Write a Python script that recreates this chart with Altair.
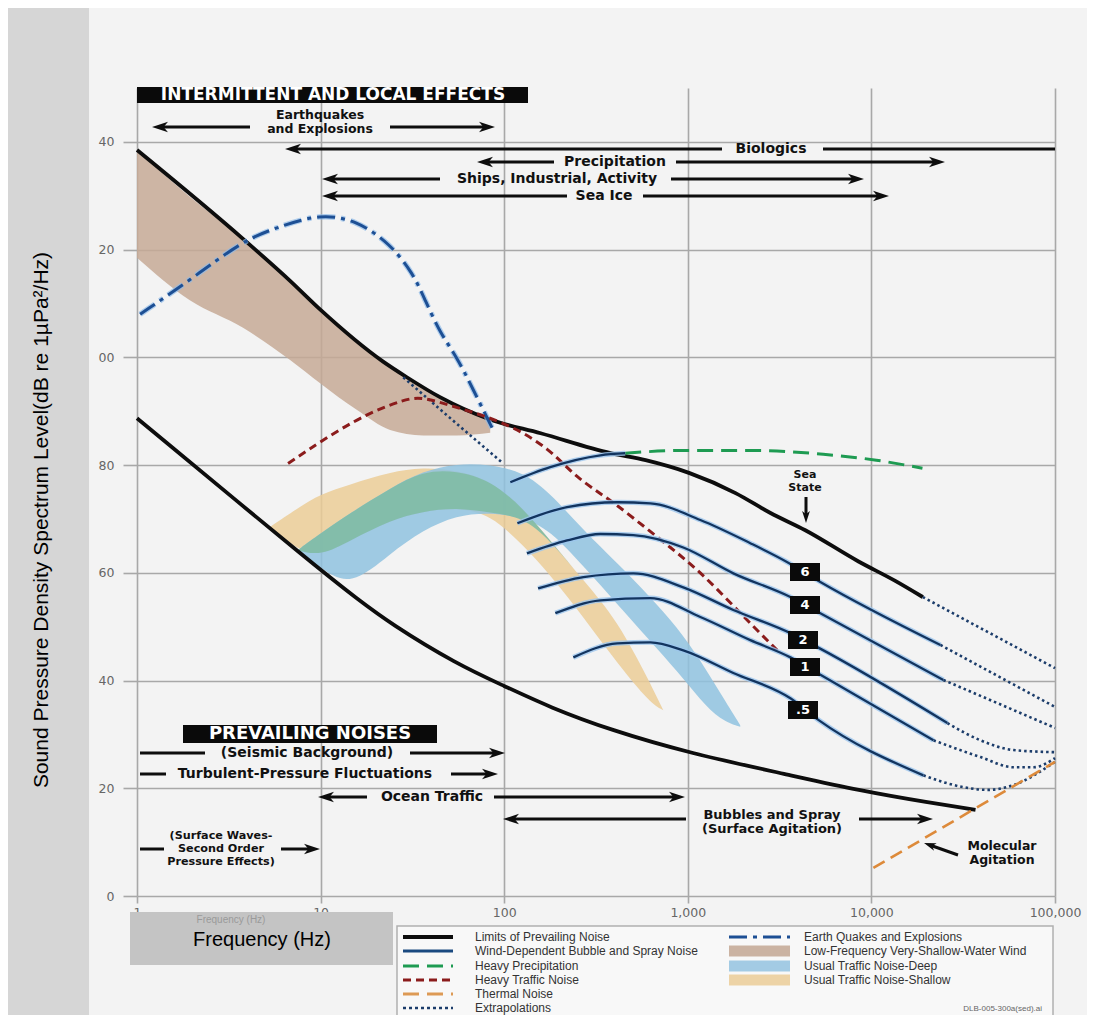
import altair as alt
import pandas as pd

# ---------------------------------------------------------------------------
# Values: frequency (Hz) and level (dB re 1 uPa^2/Hz)
# ---------------------------------------------------------------------------
upper_f = [1, 3.78, 6.82, 10, 21.9, 29.5, 44.7, 83, 158, 380, 589, 1023, 1820, 2820, 4365, 8510, 13490, 19050]
upper_db = [138.5, 122.0, 114.2, 108.8, 99.2, 96.3, 92.6, 88.5, 85.9, 82.2, 80.9, 78.5, 74.8, 71.1, 67.9, 62.1, 58.5, 55.5]

lower_f = [1, 9.94, 15.8, 23.9, 55.4, 100, 178, 380, 1023, 3550, 8510, 20900, 36900]
lower_db = [88.7, 60.5, 55.2, 50.6, 43.0, 39.0, 35.0, 30.8, 26.5, 22.5, 19.6, 17.3, 16.0]

quake_f = [1.04, 1.94, 3.78, 5.79, 9.94, 15.8, 23.9, 31.9, 37.1, 44.8, 55.4, 67.8, 87.1]
quake_db = [108.0, 114.3, 121.7, 124.1, 126.7, 125.4, 121.1, 115.6, 110.6, 104.5, 100.0, 94.0, 86.5]

traffic_f = [6.65, 15.8, 29.6, 36.2, 55.4, 104, 178, 244, 383, 682, 1156, 2057, 3075]
traffic_db = [80.3, 88.9, 92.4, 92.6, 90.7, 87.8, 83.0, 77.7, 73.5, 66.6, 60.5, 51.5, 45.6]

precip_f = [456, 934, 2245, 5470, 10640, 18970]
precip_db = [82.2, 82.7, 82.7, 82.0, 80.9, 79.4]

thermal_f = [10250, 100000]
thermal_db = [5.2, 24.9]

wind_labels = ["top", "6", "4", "2", "1", ".5"]
wind_f = [
    [108, 178, 334, 456],
    [118, 220, 413, 625, 1170, 2190, 3390, 5270, 23770],
    [133, 220, 334, 505, 945, 1770, 3620, 5270, 24660],
    [153, 270, 505, 945, 1770, 3620, 5080, 25940],
    [190, 334, 625, 1170, 2190, 3620, 5080, 21780],
    [238, 413, 625, 945, 1770, 3620, 5140, 19190],
]
wind_db = [
    [76.8, 79.6, 81.8, 82.2],
    [69.2, 72.2, 73.1, 72.9, 69.8, 65.5, 62.2, 58.3, 46.6],
    [63.6, 66.0, 67.2, 67.0, 64.7, 59.9, 55.5, 52.5, 40.1],
    [57.1, 59.2, 59.9, 57.3, 53.1, 48.8, 46.2, 32.1],
    [52.5, 54.9, 55.3, 51.8, 47.5, 44.3, 41.4, 28.9],
    [44.3, 46.9, 47.1, 45.6, 41.4, 36.7, 32.7, 22.4],
]

ext_labels = ["low", "limit", "6", "4", "2", "1", ".5"]
ext_f = [
    [28.2, 52.5, 98.8],
    [19050, 100000],
    [23770, 100000],
    [24660, 48600, 100000],
    [25940, 39260, 59400, 100000],
    [21780, 39260, 59400, 76400, 100000],
    [19190, 31700, 42900, 59400, 100000],
]
ext_db = [
    [96.3, 88.3, 80.3],
    [55.5, 42.3],
    [46.6, 35.1],
    [40.1, 35.8, 31.2],
    [32.1, 28.9, 27.1, 26.7],
    [28.9, 25.8, 23.9, 23.9, 25.6],
    [22.4, 20.2, 19.7, 20.6, 24.9],
]

wind_band_f = [1, 1.94, 3.78, 6.82, 9.94, 15.8, 23.9, 36.2, 55.4, 83.9]
wind_band_hi = [138.5, 129.8, 122.0, 114.2, 108.9, 102.6, 98.5, 94.4, 91.1, 88.5]
wind_band_lo = [118.5, 110.6, 105.5, 99.5, 95.2, 90.2, 86.5, 85.5, 85.5, 86.0]

shallow_f = [5.3, 7.5, 10, 14.5, 24, 36, 55, 84, 127, 178, 270, 413, 625, 735]
shallow_hi = [68.5, 72.0, 74.6, 76.4, 78.7, 79.6, 79.0, 77.2, 72.0, 66.0, 58.6, 51.2, 39.5, 34.5]
shallow_lo = [68.5, 64.2, 63.1, 66.0, 69.8, 71.4, 72.1, 70.9, 65.1, 59.6, 51.8, 43.2, 35.8, 34.5]

deep_f = [7.5, 10, 14.5, 24, 36, 55, 84, 127, 178, 270, 413, 625, 877, 1170, 1500, 1930]
deep_hi = [64.2, 67.3, 71.1, 75.7, 78.9, 80.3, 80.1, 78.7, 74.8, 67.9, 61.8, 55.5, 49.9, 43.8, 37.7, 31.7]
deep_lo = [64.2, 60.9, 57.3, 63.6, 67.9, 70.7, 71.2, 70.3, 67.9, 61.2, 54.2, 47.3, 41.7, 36.4, 32.7, 31.4]

x_ticks = [1, 10, 100, 1000, 10000, 100000]
y_ticks = [0, 20, 40, 60, 80, 100, 120, 140]

# ---------------------------------------------------------------------------
# Layout helpers (page pixels -> data space, used only for annotations)
# ---------------------------------------------------------------------------
PX0, PX1, PY0, PY1 = 137.0, 1055.0, 88.0, 896.0
DEC = (PX1 - PX0) / 5.0
DBPX = (PY1 - PY0) / 150.0


def fx(px):
    return 10 ** ((px - PX0) / DEC)


def dy(py):
    return (PY1 - py) / DBPX


BLACK = "#0d0d0d"
GRID = "#a8a8a8"

XS = alt.Scale(type="log", domain=[1, 100000], nice=False)
YS = alt.Scale(domain=[0, 150], nice=False, zero=False)
XA = alt.Axis(values=x_ticks, labelExpr="format(datum.value, ',')", title="",
              grid=True, gridColor=GRID, gridWidth=1.6, domain=False,
              ticks=True, tickSize=7, tickColor=GRID, tickWidth=1.6,
              labelFont="DejaVu Sans", labelFontSize=12.5, labelColor="#666666",
              labelPadding=3, labelOverlap=False, labelFlush=False)
YA = alt.Axis(values=y_ticks,
              labelExpr="datum.value >= 100 ? substring(toString(datum.value), 1) : toString(datum.value)",
              title="", grid=True, gridColor=GRID, gridWidth=1.6, domain=False,
              ticks=True, tickSize=14, tickColor=GRID, tickWidth=1.6,
              labelFont="DejaVu Sans", labelFontSize=12.5, labelColor="#666666",
              labelPadding=9, labelOverlap=False)


def xy(xf="f", yf="db"):
    return dict(x=alt.X(f"{xf}:Q", scale=XS, axis=XA), y=alt.Y(f"{yf}:Q", scale=YS, axis=YA))


def lines_df(names, fl, dl):
    rows = []
    for n, fs, ds in zip(names, fl, dl):
        for i, (a, b) in enumerate(zip(fs, ds)):
            rows.append({"name": n, "f": a, "db": b, "o": i})
    return pd.DataFrame(rows)


def line_layer(df, color, width, dash=None, interp="monotone", opacity=1.0):
    kw = dict(color=color, strokeWidth=width, interpolate=interp, opacity=opacity, strokeCap="butt")
    if dash:
        kw["strokeDash"] = dash
    return alt.Chart(df).mark_line(**kw).encode(**xy(), detail="name:N", order="o:Q")


def band_layer(df, color, opacity, interp="monotone"):
    return alt.Chart(df).mark_area(color=color, opacity=opacity, interpolate=interp).encode(
        x=alt.X("f:Q", scale=XS, axis=XA), y=alt.Y("hi:Q", scale=YS, axis=YA), y2="lo:Q")


def rect_layer(boxes, fill, stroke=None, sw=0):
    df = pd.DataFrame([{"f": fx(a), "f2": fx(c), "db": dy(b), "db2": dy(d)} for a, b, c, d in boxes])
    kw = dict(fill=fill, opacity=1)
    if stroke:
        kw.update(stroke=stroke, strokeWidth=sw)
    else:
        kw.update(strokeWidth=0)
    return alt.Chart(df).mark_rect(**kw).encode(**xy(), x2="f2:Q", y2="db2:Q")


def rule_layer(segs, color, width, dash=None):
    df = pd.DataFrame([{"f": fx(a), "db": dy(b), "f2": fx(c), "db2": dy(d)} for a, b, c, d in segs])
    kw = dict(color=color, strokeWidth=width, strokeCap="butt")
    if dash:
        kw["strokeDash"] = dash
    return alt.Chart(df).mark_rule(**kw).encode(**xy(), x2="f2:Q", y2="db2:Q")


ARROW = "M1,0 L-1,-0.65 L-0.45,0 L-1,0.65 Z"


def head_layer(heads):
    df = pd.DataFrame([{"f": fx(a), "db": dy(b), "a": ang, "s": s} for a, b, ang, s in heads])
    return alt.Chart(df).mark_point(shape=ARROW, filled=True, color=BLACK, opacity=1, strokeWidth=0).encode(
        **xy(), angle=alt.Angle("a:Q", scale=None), size=alt.Size("s:Q", scale=None))


def text_layer(items, font, weight, align="center", angle=0):
    df = pd.DataFrame([{"f": fx(a), "db": dy(b), "t": t, "s": s, "c": c} for a, b, t, s, c in items])
    return alt.Chart(df).mark_text(font=font, fontWeight=weight, align=align, baseline="middle",
                                   angle=angle).encode(
        **xy(), text="t:N", size=alt.Size("s:Q", scale=None), color=alt.Color("c:N", scale=None))


# ---------------------------------------------------------------------------
# Bands
# ---------------------------------------------------------------------------
wind_band = pd.DataFrame({"f": wind_band_f, "hi": wind_band_hi, "lo": wind_band_lo})
shallow = pd.DataFrame({"f": shallow_f, "hi": shallow_hi, "lo": shallow_lo})
deep = pd.DataFrame({"f": deep_f, "hi": deep_hi, "lo": deep_lo})
both = shallow.merge(deep, on="f", suffixes=("_s", "_d"))
both["hi"] = both[["hi_s", "hi_d"]].min(axis=1)
both["lo"] = both[["lo_s", "lo_d"]].max(axis=1)
both["lo"] = both[["lo", "hi"]].min(axis=1)
overlap = both[["f", "hi", "lo"]]

layers = []

# decorative panels outside the plot
layers.append(rect_layer([(-20, -20, 89, 1040)], "#d6d6d6"))
layers.append(rect_layer([(130, 912, 393, 965)], "#c4c4c4"))

layers.append(band_layer(wind_band, "#c5a995", 0.85))
layers.append(band_layer(shallow, "#ebcd96", 0.85, interp="basis"))
layers.append(band_layer(deep, "#8fc2df", 0.85, interp="basis"))
layers.append(band_layer(overlap, "#80bba5", 0.9, interp="basis"))

# prevailing-noise limits
layers.append(line_layer(lines_df(["up"], [upper_f], [upper_db]), BLACK, 3.8))
layers.append(line_layer(lines_df(["lo"], [lower_f], [lower_db]), BLACK, 3.8, interp="basis"))

# extrapolations
layers.append(line_layer(lines_df(ext_labels, ext_f, ext_db), "#1c3d6b", 2.6, dash=[2.5, 3]))

# earthquakes and explosions
qdf = lines_df(["q"], [quake_f], [quake_db])
layers.append(line_layer(qdf, "#8fbbe8", 5.5, dash=[18, 6, 4, 6], opacity=0.7, interp="basis"))
layers.append(line_layer(qdf, "#1d4f94", 3.0, dash=[18, 6, 4, 6], interp="basis"))

# heavy traffic, heavy precipitation, thermal noise
layers.append(line_layer(lines_df(["t"], [traffic_f], [traffic_db]), "#8b1c1c", 3.0, dash=[8, 5], interp="basis"))
layers.append(line_layer(lines_df(["p"], [precip_f], [precip_db]), "#1e9b52", 3.0, dash=[16, 8]))
layers.append(line_layer(lines_df(["th"], [thermal_f], [thermal_db]), "#dd8a3a", 2.6, dash=[13, 7], interp="linear"))

# wind-dependent bubble and spray noise
wdf = lines_df(wind_labels, wind_f, wind_db)
layers.append(line_layer(wdf, "#9cc6ee", 5.0, opacity=0.8))
layers.append(line_layer(wdf, "#12345f", 2.3))

# ---------------------------------------------------------------------------
# Annotation arrows
# ---------------------------------------------------------------------------
arrows = [
    (152, 250, 127, 1, 0), (390, 495, 127, 0, 1),
    (285, 722, 149, 1, 0), (823, 1055, 149, 0, 0),
    (477, 554, 162, 1, 0), (676, 945, 162, 0, 1),
    (322, 440, 179, 1, 0), (671, 864, 179, 0, 1),
    (322, 567, 196, 1, 0), (643, 889, 196, 0, 1),
    (140, 205, 753, 0, 0), (410, 505, 753, 0, 1),
    (140, 166, 774, 0, 0), (451, 498, 774, 0, 1),
    (318, 367, 797, 1, 0), (494, 685, 797, 0, 1),
    (503, 686, 819, 1, 0), (859, 933, 819, 0, 1),
    (140, 164, 849, 0, 0), (281, 320, 849, 0, 1),
]
segs, heads = [], []
HS = 8.0
for x1, x2, yy, hl, hr in arrows:
    a = x1 + HS if hl else x1
    b = x2 - HS if hr else x2
    segs.append((a, yy, b, yy))
    if hl:
        heads.append((x1 + HS, yy, 180, (2 * HS) ** 2))
    if hr:
        heads.append((x2 - HS, yy, 0, (2 * HS) ** 2))
# sea state arrow (down) and molecular agitation arrow
segs.append((806, 497, 806, 517))
heads.append((806, 517, 90, 144))
segs.append((958, 855, 929.7, 845))
heads.append((929.7, 845, 199.4, 144))

layers.append(rule_layer(segs, BLACK, 3.0))
layers.append(head_layer(heads))

# black label boxes
ss_pos = [(805, 572, "6"), (805, 605, "4"), (803, 640, "2"), (805, 667, "1"), (803, 710, ".5")]
boxes = [(137, 87, 528, 103), (183, 725, 437, 743)]
boxes += [(cx - 15, cy - 9, cx + 15, cy + 9) for cx, cy, _ in ss_pos]
layers.append(rect_layer(boxes, "#0a0a0a"))

W_ = "#ffffff"
K_ = "#111111"
ann = [
    (320, 115, "Earthquakes", 12.5, K_),
    (320, 129, "and Explosions", 12.5, K_),
    (771, 149, "Biologics", 14, K_),
    (615, 162, "Precipitation", 14, K_),
    (557, 179, "Ships, Industrial, Activity", 14, K_),
    (604, 196, "Sea Ice", 14, K_),
    (333, 95, "INTERMITTENT AND LOCAL EFFECTS", 17, W_),
    (310, 734, "PREVAILING NOISES", 18, W_),
    (307, 753, "(Seismic Background)", 14, K_),
    (305, 774, "Turbulent-Pressure Fluctuations", 14, K_),
    (432, 797, "Ocean Traffic", 14, K_),
    (772, 815, "Bubbles and Spray", 13, K_),
    (772, 829, "(Surface Agitation)", 13, K_),
    (221, 836, "(Surface Waves-", 11.2, K_),
    (221, 849, "Second Order", 11.2, K_),
    (221, 862, "Pressure Effects)", 11.2, K_),
    (1002, 846, "Molecular", 12.5, K_),
    (1002, 860, "Agitation", 12.5, K_),
    (805, 475, "Sea", 11, K_),
    (805, 488, "State", 11, K_),
]
ann += [(cx, cy, t, 13, W_) for cx, cy, t in ss_pos]
layers.append(text_layer(ann, "DejaVu Sans", "bold"))

# ---------------------------------------------------------------------------
# Legend
# ---------------------------------------------------------------------------
layers.append(rect_layer([(397, 926, 1053, 1019)], "#f8f8f8", stroke="#b0b0b0", sw=1.5))
rows = [937, 951, 966, 980, 994, 1008]
layers.append(rule_layer([(403, rows[0], 453, rows[0])], BLACK, 4))
layers.append(rule_layer([(403, rows[1], 453, rows[1])], "#1b4a80", 3))
layers.append(rule_layer([(403, rows[2], 453, rows[2])], "#1e9b52", 3, dash=[16, 8]))
layers.append(rule_layer([(403, rows[3], 453, rows[3])], "#8b1c1c", 3, dash=[8, 5]))
layers.append(rule_layer([(403, rows[4], 453, rows[4])], "#dd9a55", 3, dash=[16, 8]))
layers.append(rule_layer([(403, rows[5], 453, rows[5])], "#1c3d6b", 2.5, dash=[3, 3]))
layers.append(rule_layer([(729, rows[0], 790, rows[0])], "#1d4f94", 3, dash=[18, 6, 4, 6]))
layers.append(rect_layer([(729, rows[1] - 5.5, 790, rows[1] + 5.5)], "#cbb3a2"))
layers.append(rect_layer([(729, rows[2] - 5.5, 790, rows[2] + 5.5)], "#a3cbe4"))
layers.append(rect_layer([(729, rows[3] - 5.5, 790, rows[3] + 5.5)], "#edd3a6"))

LG = "#333333"
leg = [
    (475, rows[0], "Limits of Prevailing Noise", 12, LG),
    (475, rows[1], "Wind-Dependent Bubble and Spray Noise", 12, LG),
    (475, rows[2], "Heavy Precipitation", 12, LG),
    (475, rows[3], "Heavy Traffic Noise", 12, LG),
    (475, rows[4], "Thermal Noise", 12, LG),
    (475, rows[5], "Extrapolations", 12, LG),
    (804, rows[0], "Earth Quakes and Explosions", 12, LG),
    (804, rows[1], "Low-Frequency Very-Shallow-Water Wind", 12, LG),
    (804, rows[2], "Usual Traffic Noise-Deep", 12, LG),
    (804, rows[3], "Usual Traffic Noise-Shallow", 12, LG),
]
layers.append(text_layer(leg, "Liberation Sans", "normal", align="left"))
layers.append(text_layer([(1042, 1009, "DLB-005-300a(sed).ai", 8, "#666666")], "Liberation Sans", "normal", align="right"))

# axis titles
layers.append(text_layer([(262, 940, "Frequency (Hz)", 20, "#000000"),
                          (231, 920, "Frequency (Hz)", 10, "#9a9a9a")], "Liberation Sans", "normal"))
layers.append(text_layer([(42, 520, "Sound Pressure Density Spectrum Level(dB re 1\u00b5Pa\u00b2/Hz)", 21, "#000000")],
                         "Liberation Sans", "normal", angle=270))

chart = alt.layer(*layers).properties(
    width=918, height=808,
    autosize=alt.AutoSizeParams(type="none"),
    padding={"left": 129, "top": 80, "right": 32, "bottom": 119},
).configure(background="#f3f3f3").configure_view(strokeWidth=0)

chart.save("out.html", embed_options={"renderer": "svg", "actions": False})
